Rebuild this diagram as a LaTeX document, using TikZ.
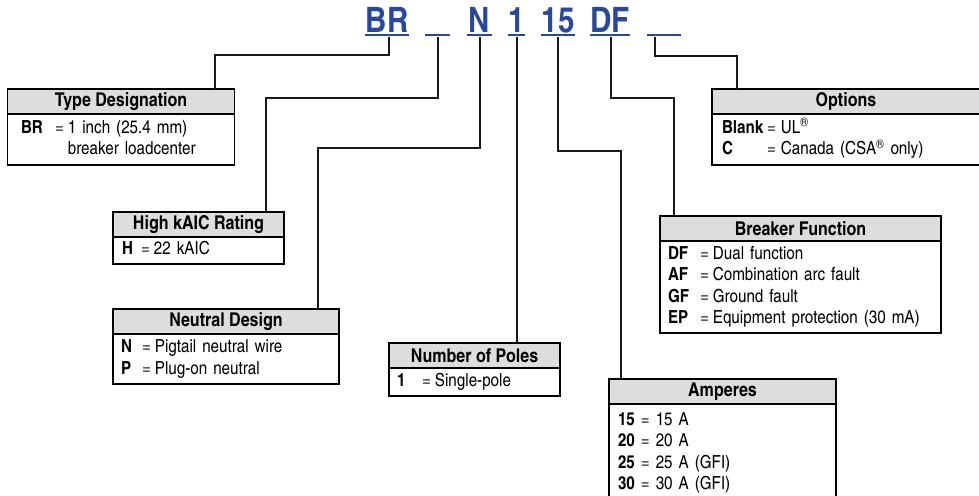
\documentclass[tikz,border=0pt]{standalone}
\usepackage{fontspec}
\setmainfont{texgyreheroscn}[Extension=.otf, UprightFont=*-regular, BoldFont=*-bold, FakeStretch=1.03]
\usetikzlibrary{positioning}
\definecolor{codeblue}{RGB}{40,72,158}
\definecolor{hdrgray}{RGB}{221,221,221}

\begin{document}
\begin{tikzpicture}[x=1pt, y=-1pt,
        code/.style = {anchor=south, inner sep=0pt, outer sep=0pt, text height=25pt, text depth=0pt,
                       text=codeblue, font=\fontsize{35}{35}\selectfont\bfseries},
        uline/.style = {draw=codeblue, line width=2.5pt},
        conn/.style = {draw=black!90, line width=2pt},
        headbox/.style = {draw, line width=1.2pt, fill=hdrgray, anchor=north west, inner sep=0pt,
                          outer sep=0pt, minimum height=25pt, font=\fontsize{19}{21.5}\selectfont\bfseries},
        descbox/.style = {draw, line width=1.2pt, inner xsep=8pt, inner ysep=0pt, outer sep=0pt,
                          align=left, font=\fontsize{18}{21.5}\selectfont},
    ]
    \useasboundingbox (0,0) rectangle (979,495);

    % catalog number
    \node [code, minimum width=44pt] (cBR) at (387,33) {BR};
    \node [code, minimum width=25pt] (cb1) at (437.5,33) {};
    \node [code, minimum width=25pt] (cN) at (479.5,33) {N};
    \node [code, minimum width=17pt] (c1) at (516.5,33) {1};
    \node [code, minimum width=34pt] (c15) at (558,33) {15};
    \node [code, minimum width=38pt] (cDF) at (610,33) {DF};
    \node [code, minimum width=34pt] (cb2) at (664,33) {};
    \foreach \c in {cBR,cb1,cN,c1,c15,cDF,cb2}
        \draw [uline] ([yshift=-2pt]\c.south west) -- ([yshift=-2pt]\c.south east);

    % type designation
    \node [headbox, minimum width=227pt] (tdh) at (7.5,89) {Type Designation};
    \node [descbox, below=0pt of tdh, text width=200pt, inner xsep=13.5pt, minimum height=51pt] (tdb) {%
        \begin{tabular}{@{}p{34pt}@{}l@{\hspace{4pt}}l@{}}
            \textbf{BR} & = & 1 inch (25.4 mm)\\
                        &   & breaker loadcenter
        \end{tabular}};

    % high kaic
    \node [headbox, minimum width=171pt] (hkh) at (113,212) {High kAIC Rating};
    \node [descbox, below=0pt of hkh, text width=153pt, inner xsep=9pt, minimum height=27pt] (hkb) {%
        \begin{tabular}{@{}p{19pt}@{}l@{\hspace{4pt}}l@{}}
            \textbf{H} & = & 22 kAIC
        \end{tabular}};

    % neutral design
    \node [headbox, minimum width=226pt] (ndh) at (113,309) {Neutral Design};
    \node [descbox, below=0pt of ndh, text width=210pt, minimum height=50pt] (ndb) {%
        \begin{tabular}{@{}p{21pt}@{}l@{\hspace{4pt}}l@{}}
            \textbf{N} & = & Pigtail neutral wire\\
            \textbf{P} & = & Plug-on neutral
        \end{tabular}};

    % number of poles
    \node [headbox, minimum width=171pt] (nph) at (389,343) {Number of Poles};
    \node [descbox, below=0pt of nph, text width=155pt, minimum height=28pt] (npb) {%
        \begin{tabular}{@{}p{25pt}@{}l@{\hspace{4pt}}l@{}}
            \textbf{1} & = & Single-pole
        \end{tabular}};

    % amperes
    \node [headbox, minimum width=227pt] (amh) at (609,379) {Amperes};
    \node [descbox, below=0pt of amh, text width=209pt, inner xsep=9pt, minimum height=98pt] (amb) {%
        \begin{tabular}{@{}l@{}}
            \textbf{15} = 15 A\\
            \textbf{20} = 20 A\\
            \textbf{25} = 25 A (GFI)\\
            \textbf{30} = 30 A (GFI)
        \end{tabular}};

    % breaker function
    \node [headbox, minimum width=281pt] (bfh) at (660,216) {Breaker Function};
    \node [descbox, below=0pt of bfh, text width=265pt, minimum height=92pt] (bfb) {%
        \begin{tabular}{@{}p{32pt}@{}l@{\hspace{4pt}}l@{}}
            \textbf{DF} & = & Dual function\\
            \textbf{AF} & = & Combination arc fault\\
            \textbf{GF} & = & Ground fault\\
            \textbf{EP} & = & Equipment protection (30 mA)
        \end{tabular}};

    % options
    \node [headbox, minimum width=268pt] (oph) at (712,89) {Options};
    \node [descbox, below=0pt of oph, text width=248pt, inner xsep=10pt, minimum height=51pt] (opb) {%
        \begin{tabular}{@{}p{45pt}@{}l@{\hspace{5pt}}l@{}}
            \textbf{Blank} & = & UL\textsuperscript{\textregistered}\\
            \textbf{C}     & = & Canada (CSA\textsuperscript{\textregistered} only)
        \end{tabular}};

    % connectors
    \draw [conn] ([xshift=2pt,yshift=-4pt]cBR.south) -- ++(0,18) -| ([xshift=207.5pt]tdh.north west);
    \draw [conn] ([yshift=-4pt]cb1.south) -- ++(0,61) -| ([xshift=153pt]hkh.north west);
    \draw [conn] ([yshift=-4pt]cN.south) -- ++(0,111) -| ([xshift=205pt]ndh.north west);
    \draw [conn] ([yshift=-4pt]c1.south) -- (c1.south |- nph.north);
    \draw [conn] ([yshift=-4pt]c15.south) -- ++(0,114) -| ([xshift=12pt]amh.north west);
    \draw [conn] ([xshift=1pt,yshift=-4pt]cDF.south) -- ++(0,61) -| ([xshift=13.5pt]bfh.north west);
    \draw [conn] ([xshift=-9pt,yshift=-4pt]cb2.south) -- ++(0,19) -| ([xshift=25pt]oph.north west);
\end{tikzpicture}
\end{document}
